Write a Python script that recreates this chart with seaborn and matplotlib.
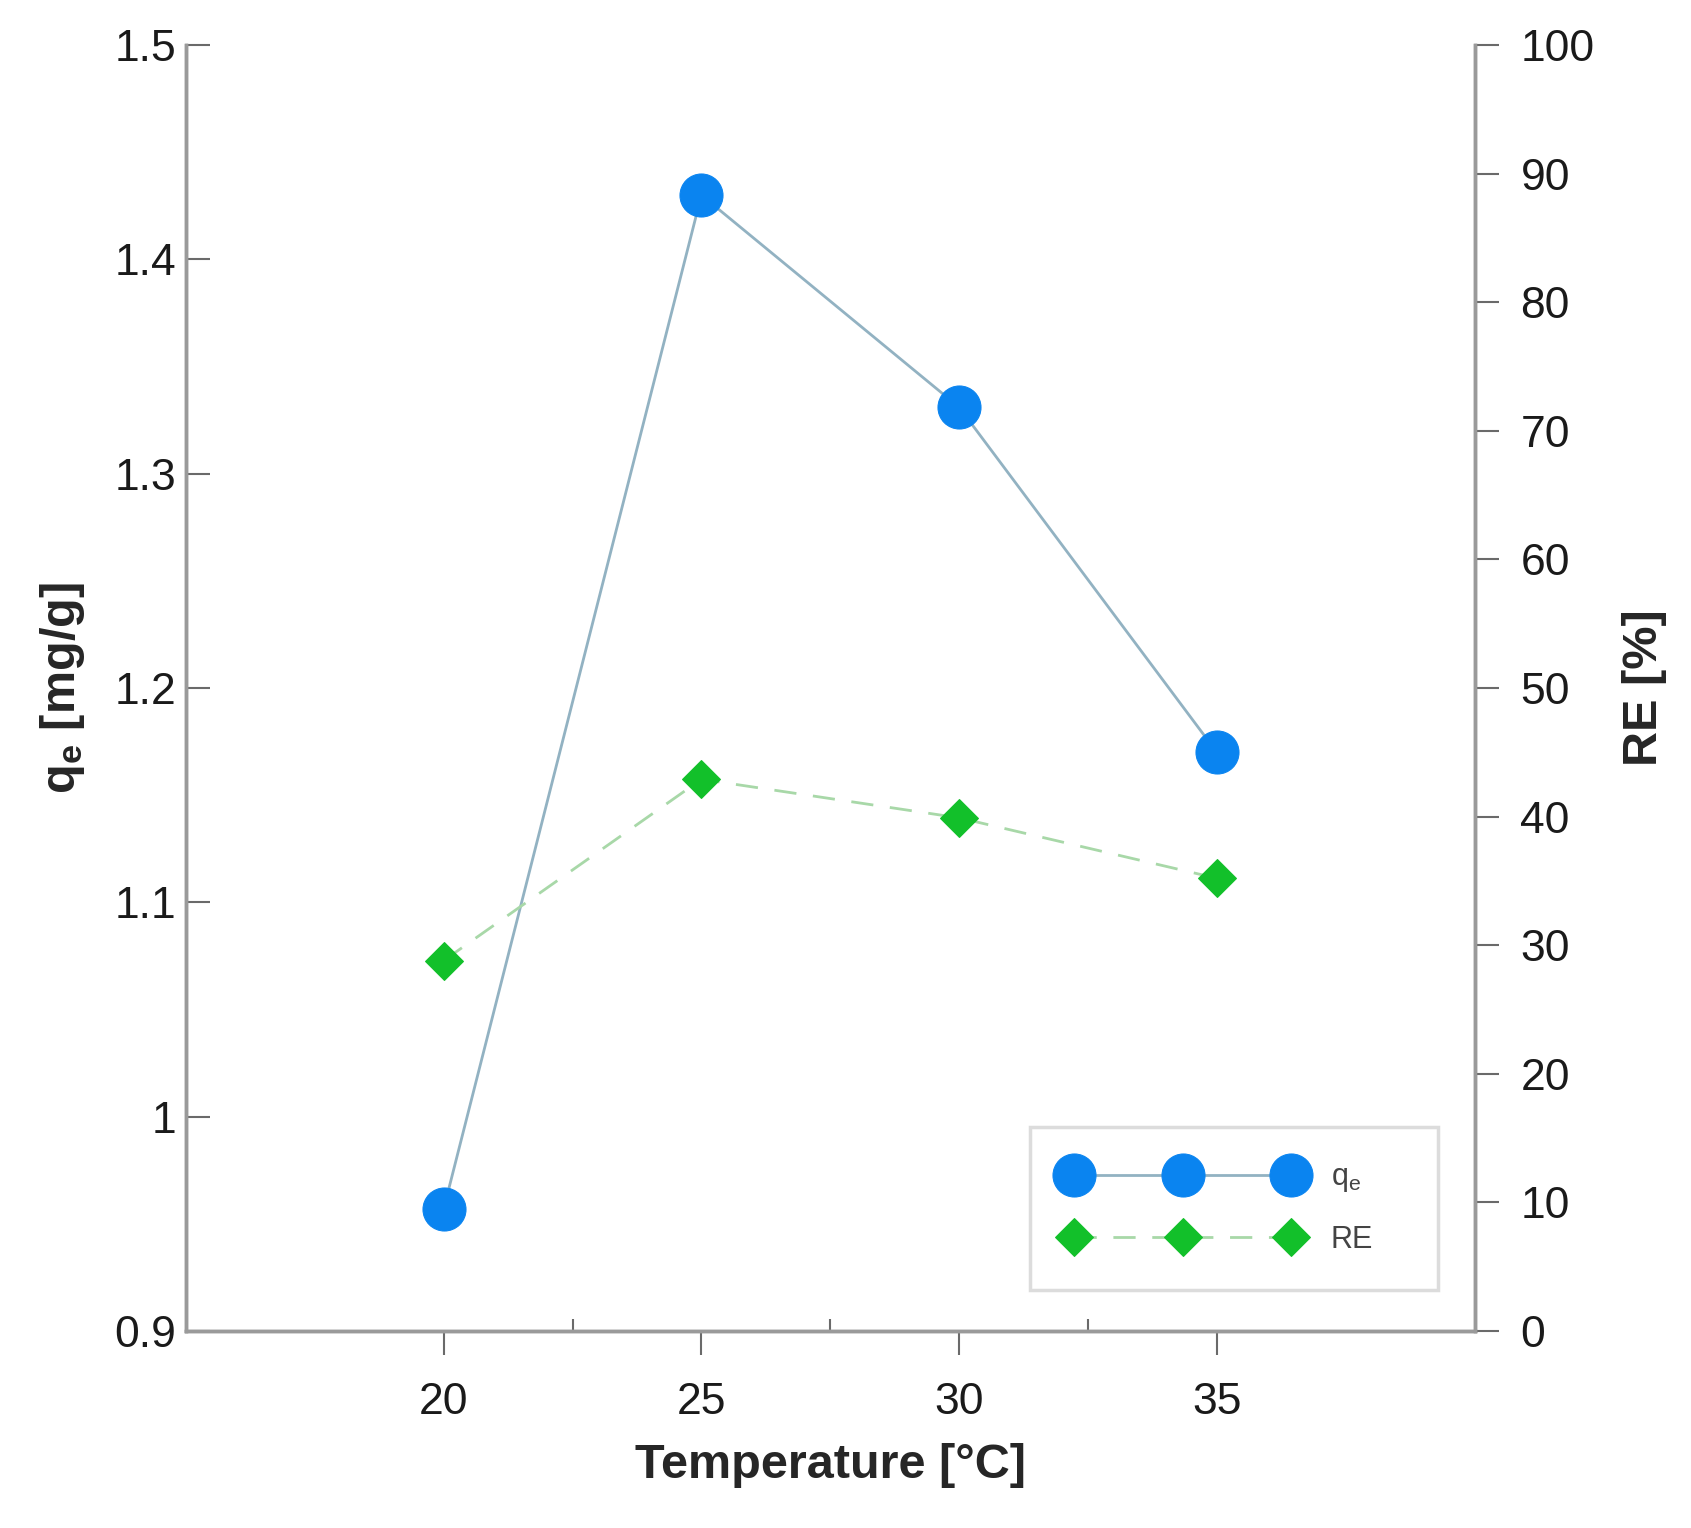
import matplotlib
matplotlib.use("Agg")
import matplotlib.pyplot as plt
import seaborn as sns
import pandas as pd
from matplotlib.ticker import FixedLocator, FuncFormatter

temperature = [20, 25, 30, 35]
qe_values = [0.957, 1.430, 1.331, 1.170]
re_values = [28.8, 42.9, 39.9, 35.2]
left_ticks = [0.9, 1.0, 1.1, 1.2, 1.3, 1.4, 1.5]
right_ticks = [0, 10, 20, 30, 40, 50, 60, 70, 80, 90, 100]
x_ticks = [20, 25, 30, 35]
x_minor = [22.5, 27.5, 32.5]

df = pd.DataFrame({"T": temperature, "qe": qe_values, "RE": re_values})

sns.set_style("white")
plt.rcParams['font.family'] = ['Liberation Sans Narrow', 'Liberation Sans', 'DejaVu Sans']
plt.rcParams['mathtext.default'] = 'regular'

fig = plt.figure(figsize=(16.91, 15.28), dpi=100)
ax = fig.add_axes([0.110, 0.129, 0.762, 0.8415])
ax2 = ax.twinx()

blue = "#0A84F0"
green = "#12C02A"
sns.lineplot(data=df, x="T", y="qe", ax=ax, color="#92B2C2", linewidth=2,
             marker="o", markersize=31, markerfacecolor=blue, markeredgecolor=blue,
             label="q$_e$", legend=False)
sns.lineplot(data=df, x="T", y="RE", ax=ax2, color="#A8D8A8", linewidth=2,
             marker="D", markersize=19, markerfacecolor=green, markeredgecolor=green,
             label="RE", legend=False)
ax2.lines[0].set_dashes([8, 6])

ax.set_xlim(15, 40)
ax.set_ylim(0.9, 1.5)
ax2.set_ylim(0, 100)

spine_c = "#9a9a9a"
for a in (ax, ax2):
    for s in ("left", "bottom", "right"):
        a.spines[s].set_visible(True)
        a.spines[s].set_color(spine_c)
        a.spines[s].set_linewidth(2.5)
    a.spines["top"].set_visible(False)

ax.xaxis.set_major_locator(FixedLocator(x_ticks))
ax.xaxis.set_minor_locator(FixedLocator(x_minor))
ax.yaxis.set_major_locator(FixedLocator(left_ticks))
ax.yaxis.set_major_formatter(FuncFormatter(lambda v, p: f"{v:g}"))
ax2.yaxis.set_major_locator(FixedLocator(right_ticks))

tick_c = "#6a6a6a"
ax.tick_params(axis="x", which="major", direction="out", length=17, width=1.5,
               color=tick_c, labelsize=32, pad=20, bottom=True)
ax.tick_params(axis="x", which="minor", direction="in", length=9, width=1.5,
               color=tick_c, bottom=True)
ax.tick_params(axis="y", which="major", direction="in", length=17, width=1.5,
               color=tick_c, labelsize=32, pad=7, left=True)
ax2.tick_params(axis="y", which="major", direction="out", length=17, width=1.5,
                color=tick_c, labelsize=32, pad=16, right=True)
for lab in ax.get_xticklabels() + ax.get_yticklabels() + ax2.get_yticklabels():
    lab.set_color("#1a1a1a")

ax.set_xlabel("Temperature [°C]", fontsize=35, fontweight="bold", labelpad=14)
ax.set_ylabel("q$_e$ [mg/g]", fontsize=35, fontweight="bold", labelpad=20)
ax2.set_ylabel("RE [%]", fontsize=35, fontweight="bold", labelpad=20)

x0 = 1030 / 1691
y0 = 1 - 1290 / 1528
w = (1438 - 1030) / 1691
h = (1290 - 1125) / 1528
handles = [ax.lines[0], ax2.lines[0]]
leg = fig.legend(handles, ["q$_e$", "RE"], loc="lower left",
                 bbox_to_anchor=(x0, y0, w, h), mode="expand", numpoints=3,
                 fontsize=22, frameon=True, fancybox=False, handlelength=7.7,
                 borderpad=1.15, labelspacing=1.0, handletextpad=1.0,
                 borderaxespad=0)
leg.get_frame().set_edgecolor("#d4d4d4")
leg.get_frame().set_linewidth(2.5)
for t in leg.get_texts():
    t.set_color("#444444")

fig.savefig("out.png", dpi=100)
